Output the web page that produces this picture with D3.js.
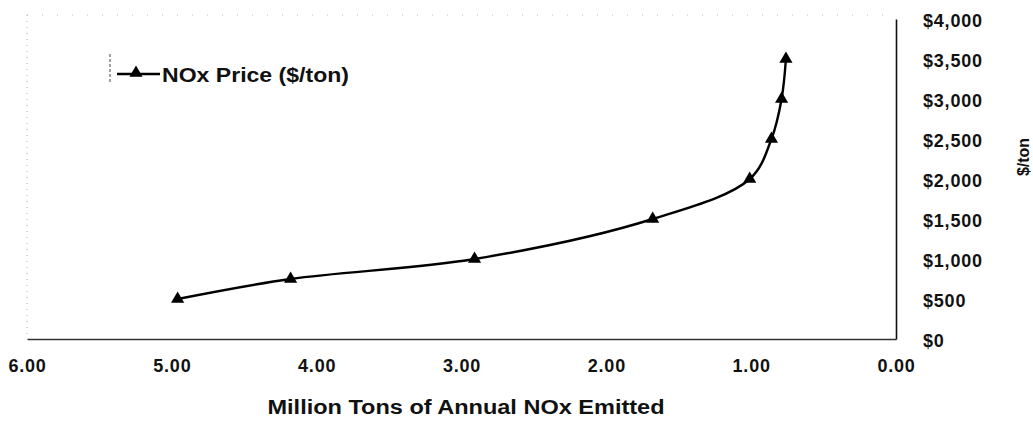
<!DOCTYPE html>
<html>
<head>
<meta charset="utf-8">
<script src="https://cdn.jsdelivr.net/npm/d3@7"></script>
<style>
  html, body { margin: 0; padding: 0; background: #fff; }
  svg { display: block; }
  text { font-family: "Liberation Sans", Arial, sans-serif; font-weight: bold; fill: #111; }
</style>
</head>
<body>
<svg id="chart" width="1033" height="423"></svg>
<script>
// Data
const emissions = [4.96, 4.18, 2.91, 1.68, 1.01, 0.86, 0.79, 0.76]; // million tons
const prices    = [500, 750, 1000, 1500, 2000, 2500, 3000, 3500];   // $/ton
const xTicks = [6, 5, 4, 3, 2, 1, 0];
const yTicks = [0, 500, 1000, 1500, 2000, 2500, 3000, 3500, 4000];
const seriesName = "NOx Price ($/ton)";
const xTitle = "Million Tons of Annual NOx Emitted";
const yTitle = "$/ton";

(function () {
const svg = d3.select("#chart");
const pLeft = 27, pRight = 896, pTop = 19, pBottom = 339;

const x = d3.scaleLinear().domain([6, 0]).range([pLeft, pRight]);
const y = d3.scaleLinear().domain([0, 4000]).range([pBottom, pTop]);

// faint plot-area border (scan remnants)
svg.append("line").attr("x1", pLeft).attr("x2", pLeft).attr("y1", 15).attr("y2", pBottom)
  .attr("stroke", "#aaa").attr("stroke-width", 1).attr("stroke-dasharray", "1,5");
svg.append("line").attr("x1", pLeft).attr("x2", pRight).attr("y1", 15).attr("y2", 15)
  .attr("stroke", "#bbb").attr("stroke-width", 1).attr("stroke-dasharray", "1,14");

// X axis (bottom)
const xAxis = d3.axisBottom(x).tickValues(xTicks).tickFormat(d3.format(".2f")).tickSize(0).tickPadding(20);
const gx = svg.append("g").attr("transform", `translate(0,${pBottom})`).call(xAxis);
gx.select(".domain").attr("stroke", "#333").attr("stroke-width", 1.3);
gx.selectAll("text").attr("font-size", 18).attr("letter-spacing", 0.8).attr("fill", "#111")
  .attr("font-family", "Liberation Sans, Arial, sans-serif").attr("font-weight", "bold");

// Y axis (right)
const yAxis = d3.axisRight(y).tickValues(yTicks).tickFormat(d => "$" + d3.format(",")(d)).tickSize(0).tickPadding(27);
const gy = svg.append("g").attr("transform", `translate(${pRight},0)`).call(yAxis);
gy.select(".domain").attr("stroke", "#111").attr("stroke-width", 1.6);
gy.selectAll("text").attr("font-size", 18).attr("letter-spacing", 0.8).attr("fill", "#111")
  .attr("font-family", "Liberation Sans, Arial, sans-serif").attr("font-weight", "bold")
  .attr("dy", "0.4em");

// Titles
svg.append("text").attr("x", 466).attr("y", 414).attr("text-anchor", "middle")
  .attr("font-size", 20).attr("textLength", 397).attr("lengthAdjust", "spacingAndGlyphs").text(xTitle);
svg.append("text").attr("transform", "translate(1029,157) rotate(-90)").attr("text-anchor", "middle")
  .attr("font-size", 16).text(yTitle);

// Line
const pts = emissions.map((e, i) => [e, prices[i]]);
const line = d3.line().x(d => x(d[0])).y(d => y(d[1])).curve(d3.curveCatmullRom.alpha(0.5));
svg.append("path").datum(pts).attr("d", line).attr("fill", "none")
  .attr("stroke", "#000").attr("stroke-width", 2.4);

// Markers
const tri = d3.symbol().type(d3.symbolTriangle).size(75);
svg.selectAll("path.mk").data(pts).join("path").attr("class", "mk")
  .attr("d", tri).attr("transform", d => `translate(${x(d[0])},${y(d[1])})`).attr("fill", "#000");

// Legend
const lg = svg.append("g");
lg.append("line").attr("x1", 110).attr("x2", 110).attr("y1", 54).attr("y2", 82)
  .attr("stroke", "#444").attr("stroke-width", 1).attr("stroke-dasharray", "3,2");
lg.append("line").attr("x1", 117).attr("x2", 160).attr("y1", 74).attr("y2", 74)
  .attr("stroke", "#000").attr("stroke-width", 2.4);
lg.append("path").attr("d", tri).attr("transform", "translate(136,73)").attr("fill", "#000");
lg.append("text").attr("x", 162).attr("y", 82).attr("font-size", 21)
  .attr("textLength", 187).attr("lengthAdjust", "spacingAndGlyphs").text(seriesName);
})();
</script>
</body>
</html>
